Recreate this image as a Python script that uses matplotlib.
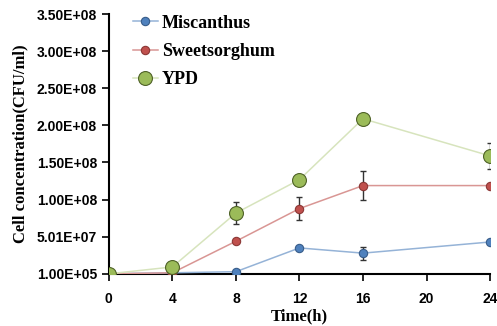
import numpy as np
import matplotlib
matplotlib.use("Agg")
import matplotlib.pyplot as plt

# data
time = [0, 4, 8, 12, 16, 24]
miscanthus = [1.0e5, 1.5e6, 3.0e6, 3.5e7, 2.8e7, 4.3e7]
miscanthus_err = [0, 0, 0, 0, 8.8e6, 0]
sorghum = [1.0e5, 1.5e6, 4.4e7, 8.8e7, 1.19e8, 1.19e8]
sorghum_err = [0, 0, 0, 1.6e7, 1.9e7, 0]
ypd = [1.0e5, 9.4e6, 8.2e7, 1.27e8, 2.09e8, 1.59e8]
ypd_err = [0, 0, 1.5e7, 0, 0, 1.7e7]

yticks = [1.0e5 + k * 5e7 for k in range(8)]
ytick_labels = ["1.00E+05", "5.01E+07", "1.00E+08", "1.50E+08",
                "2.00E+08", "2.50E+08", "3.00E+08", "3.50E+08"]
xticks = [0, 4, 8, 12, 16, 20, 24]

fig = plt.figure(figsize=(4.97, 3.26), dpi=100)
ax = fig.add_axes([0.219, 0.16, 0.767, 0.797])

series = [
    (miscanthus, miscanthus_err, "#95B3D7", "#4F81BD", "#385D8A", 6, "Miscanthus"),
    (sorghum, sorghum_err, "#D99694", "#C0504D", "#8C3836", 6, "Sweetsorghum"),
    (ypd, ypd_err, "#D7E4BD", "#9BBB59", "#4F6228", 10, "YPD"),
]
for i, (vals, err, lc, fc, ec, ms, name) in enumerate(series):
    ax.errorbar(time, vals, yerr=err, fmt="none", ecolor="#333333",
                elinewidth=1, capsize=2.5, zorder=3 + i)
    ax.plot(time, vals, color=lc, lw=1.1, marker="o", ms=ms, mfc=fc,
            mec=ec, mew=0.8, label=name, zorder=3.5 + i)

ax.set_xlim(0, 24)
ax.set_ylim(1.0e5, 3.501e8)
ax.set_xticks(xticks)
ax.set_yticks(yticks)
ax.set_yticklabels(ytick_labels)
for spine in ["top", "right"]:
    ax.spines[spine].set_visible(False)
for spine in ["left", "bottom"]:
    ax.spines[spine].set_linewidth(1.5)
    ax.spines[spine].set_color("black")
ax.tick_params(direction="out", length=5, width=1.2, labelsize=10)
ax.tick_params(axis="x", pad=8)
for lab in ax.get_xticklabels() + ax.get_yticklabels():
    lab.set_fontweight("bold")
    lab.set_family("Liberation Sans")

ax.set_xlabel("Time(h)", fontsize=12, fontweight="bold", family="Liberation Serif", labelpad=2)
ax.set_ylabel("Cell concentration(CFU/ml)", fontsize=12, fontweight="bold",
              family="Liberation Serif", labelpad=6)

ax.legend(loc="upper left", bbox_to_anchor=(0.02, 1.06), frameon=False,
          prop={"family": "Liberation Serif", "weight": "bold", "size": 13},
          handlelength=1.4, labelspacing=0.62, handletextpad=0.2)

fig.savefig("out.png", dpi=100)
